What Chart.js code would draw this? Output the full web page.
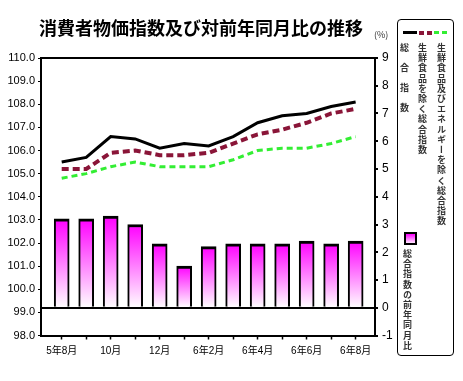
<!DOCTYPE html>
<html>
<head>
<meta charset="utf-8">
<script src="https://cdn.jsdelivr.net/npm/chart.js@4/dist/chart.umd.min.js"></script>
<style>
    body { margin: 0; background: #fff; }
    #wrap { position: relative; width: 463px; height: 381px; font-family: 'Noto Sans CJK JP', sans-serif; }
    #title { position: absolute; left: 39px; top: 16px; font-size: 18px; font-weight: bold; line-height: 22px; white-space: nowrap; color: #000; }
    #unit { position: absolute; left: 374px; top: 28px; font-size: 9px; color: #333; }
    #legend { position: absolute; left: 397px; top: 19px; width: 57px; height: 337px; border: 1px solid #000; border-radius: 4px; box-sizing: border-box; }
    .sample { position: absolute; top: 11px; height: 3px; }
    .col { position: absolute; writing-mode: vertical-rl; text-orientation: upright; font-size: 9px; font-weight: bold; line-height: 10px; color: #333; letter-spacing: 1.2px; white-space: nowrap; }
    #swatch { position: absolute; left: 6px; top: 212px; width: 9px; height: 9px; border: 2px solid #000; background: linear-gradient(#ff00ff, #ffe6ff); }
</style>
</head>
<body>
<div id="wrap">
    <canvas id="chart" width="463" height="381"></canvas>
    <div id="title">消費者物価指数及び対前年同月比の推移</div>
    <div id="unit">(%)</div>
    <div id="legend">
        <div class="sample" style="left:5px;width:14px;background:#000;"></div>
        <div class="sample" style="left:21px;width:14px;height:4px;background:repeating-linear-gradient(90deg,#8a1538 0 5px,transparent 5px 8px);"></div>
        <div class="sample" style="left:36px;width:15px;background:repeating-linear-gradient(90deg,#33ee33 0 5px,transparent 5px 8px);"></div>
        <div class="col" style="left:1px;top:23px;letter-spacing:11px;">総合指数</div>
        <div class="col" style="left:19px;top:23px;">生鮮食品を除く総合指数</div>
        <div class="col" style="left:38px;top:23px;">生鮮食品及びエネルギーを除く総合指数</div>
        <div id="swatch"></div>
        <div class="col" style="left:4px;top:229px;">総合指数の前年同月比</div>
    </div>
</div>
<script>
// Months (令和5年8月 - 令和6年8月)
const months = ['5年8月', '9月', '10月', '11月', '12月', '6年1月', '6年2月', '6年3月', '6年4月', '6年5月', '6年6月', '6年7月', '6年8月'];
const monthTicks = ['5年8月', '', '10月', '', '12月', '', '6年2月', '', '6年4月', '', '6年6月', '', '6年8月'];

// Index values (left axis)
const sogo = [105.5, 105.7, 106.6, 106.5, 106.1, 106.3, 106.2, 106.6, 107.2, 107.5, 107.6, 107.9, 108.1];
const seisenJogai = [105.2, 105.2, 105.9, 106.0, 105.8, 105.8, 105.9, 106.3, 106.7, 106.9, 107.2, 107.6, 107.8];
const energyJogai = [104.8, 105.0, 105.3, 105.5, 105.3, 105.3, 105.3, 105.6, 106.0, 106.1, 106.1, 106.3, 106.6];

// Year-on-year change of 総合 (right axis, %)
const yoy = [3.2, 3.2, 3.3, 3.0, 2.3, 1.5, 2.2, 2.3, 2.3, 2.3, 2.4, 2.3, 2.4];

// Axis ranges
const leftMin = 98, leftMax = 110;
const rightMin = -1, rightMax = 9;

function points(values) {
    return values.map((v, i) => ({ x: i, y: v }));
}

// Gradient for each bar: magenta at its top, white at the zero line
function barGradient(ctx) {
    const chart = ctx.chart;
    if (!chart.chartArea || ctx.type !== 'data') return '#ff00ff';
    const y2 = chart.scales.y2;
    const top = y2.getPixelForValue(ctx.parsed.y);
    const base = y2.getPixelForValue(0);
    const g = chart.ctx.createLinearGradient(0, top, 0, base);
    g.addColorStop(0, '#ff00ff');
    g.addColorStop(1, '#ffffff');
    return g;
}

// Top border of the plot box
const frameTop = {
    id: 'frameTop',
    afterDraw(chart) {
        const { ctx, chartArea } = chart;
        ctx.save();
        ctx.strokeStyle = '#000';
        ctx.lineWidth = 2;
        ctx.beginPath();
        ctx.moveTo(chartArea.left, chartArea.top);
        ctx.lineTo(chartArea.right, chartArea.top);
        ctx.stroke();
        ctx.restore();
    }
};

const tickFont = { family: "'Liberation Sans', 'Noto Sans CJK JP'", size: 11 };

new Chart(document.getElementById('chart'), {
    type: 'bar',
    data: {
        datasets: [
            {
                type: 'line',
                label: '総合指数',
                data: points(sogo),
                yAxisID: 'y',
                borderColor: '#000',
                borderWidth: 3,
                pointRadius: 0,
                tension: 0
            },
            {
                type: 'line',
                label: '生鮮食品を除く総合指数',
                data: points(seisenJogai),
                yAxisID: 'y',
                borderColor: '#8a1538',
                borderWidth: 4,
                borderDash: [7, 4],
                pointRadius: 0,
                tension: 0
            },
            {
                type: 'line',
                label: '生鮮食品及びエネルギーを除く総合指数',
                data: points(energyJogai),
                yAxisID: 'y',
                borderColor: '#33ee33',
                borderWidth: 3,
                borderDash: [6, 4],
                pointRadius: 0,
                tension: 0
            },
            {
                type: 'bar',
                label: '総合指数の前年同月比',
                data: points(yoy),
                yAxisID: 'y2',
                backgroundColor: barGradient,
                borderColor: '#000',
                borderWidth: { top: 3, left: 2, right: 2, bottom: 0 },
                barThickness: 15
            }
        ]
    },
    options: {
        responsive: false,
        animation: false,
        devicePixelRatio: 1,
        layout: { padding: { top: 58, left: 0, right: 0, bottom: 0 } },
        plugins: {
            legend: { display: false },
            tooltip: { enabled: false }
        },
        scales: {
            x: {
                type: 'linear',
                min: -0.845,
                max: 12.79,
                offset: false,
                afterBuildTicks: (axis) => { axis.ticks = months.map((m, i) => ({ value: i })); },
                afterFit: (axis) => { axis.height = 45.5; },
                ticks: {
                    autoSkip: false,
                    maxRotation: 0,
                    padding: 6,
                    color: '#000',
                    font: { family: "'Liberation Sans', 'Noto Sans CJK JP'", size: 10 },
                    callback: (value) => monthTicks[value]
                },
                grid: { offset: false, drawOnChartArea: false, tickLength: 4, tickColor: '#000', tickWidth: 1.5 },
                border: { color: '#000', width: 2 }
            },
            y: {
                position: 'left',
                min: leftMin,
                max: leftMax,
                afterFit: (axis) => { axis.width = 41; },
                ticks: {
                    stepSize: 1,
                    padding: 3,
                    color: '#000',
                    font: tickFont,
                    callback: (value) => value.toFixed(1)
                },
                grid: { drawOnChartArea: false, tickLength: 3, tickColor: '#000' },
                border: { color: '#000', width: 2 }
            },
            y2: {
                position: 'right',
                min: rightMin,
                max: rightMax,
                afterFit: (axis) => { axis.width = 88; },
                ticks: {
                    stepSize: 1,
                    padding: 4,
                    color: '#000',
                    font: { family: "'Liberation Sans'", size: 12 }
                },
                grid: {
                    color: (ctx) => (ctx.tick && ctx.tick.value === 0 ? '#000' : 'rgba(0,0,0,0)'),
                    lineWidth: 2,
                    tickLength: 3,
                    tickColor: '#000'
                },
                border: { color: '#000', width: 2 }
            }
        }
    },
    plugins: [frameTop]
});
</script>
</body>
</html>
